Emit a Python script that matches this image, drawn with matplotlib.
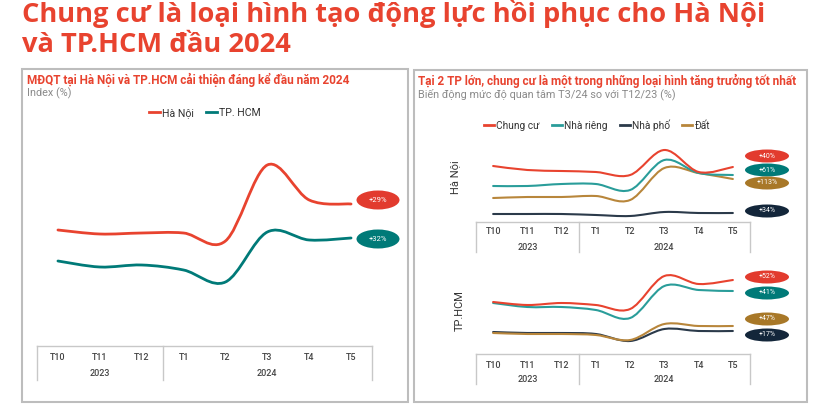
import numpy as np
import matplotlib
matplotlib.use("Agg")
import matplotlib.pyplot as plt
from matplotlib.path import Path
from matplotlib.patches import PathPatch, Ellipse, Rectangle
from matplotlib import transforms

plt.rcParams['font.family'] = ['Roboto', 'DejaVu Sans']

# ---- data ----
months = ["T10", "T11", "T12", "T1", "T2", "T3", "T4", "T5"]
years = ["2023", "2024"]
year_groups = [(0, 2), (3, 7)]

# left panel: index (%)
left_hn = [103, 99, 100, 100, 92, 168, 133, 129]
left_hcm = [72, 66, 68, 63, 51, 101, 93, 95]
left_badges = ["+29%", "+32%"]

# right panel, Hà Nội
hn_chungcu = [64, 60, 59, 58, 55, 80, 58, 63]
hn_nharieng = [44, 44, 46, 46, 40, 70, 57, 55]
hn_dat = [32, 33, 33, 34, 30, 62, 57, 51]
hn_nhapho = [16, 16, 16, 15, 14, 18, 17, 17]
hn_badges = ["+40%", "+61%", "+113%", "+34%"]

# right panel, TP.HCM
hcm_chungcu = [43, 40, 42, 40, 36, 69, 61, 65]
hcm_nharieng = [42, 38, 38, 35, 27, 59, 55, 54]
hcm_dat = [12, 11, 11, 10, 5, 21, 19, 19]
hcm_nhapho = [13, 12, 12, 11, 4, 16, 14, 14]
hcm_badges = ["+52%", "+41%", "+47%", "+17%"]

W, H = 815, 417
RED = "#E8432F"
TEAL_DARK = "#007A78"
TEAL = "#2A9D9A"
NAVY = "#2B3A4A"
TAN = "#B8863B"
GRID = "#c8c8c8"


def fx(x):
    return x / W


def fy(y):
    return 1 - y / H


def smooth_path(xs, ys):
    # Catmull-Rom through the points, turned into cubic bezier segments
    pts = np.column_stack([xs, ys]).astype(float)
    verts = [pts[0]]
    codes = [Path.MOVETO]
    n = len(pts)
    for i in range(n - 1):
        p0 = pts[max(i - 1, 0)]
        p1 = pts[i]
        p2 = pts[i + 1]
        p3 = pts[min(i + 2, n - 1)]
        c1 = p1 + (p2 - p0) / 6.0
        c2 = p2 - (p3 - p1) / 6.0
        verts += [c1, c2, p2]
        codes += [Path.CURVE4] * 3
    return Path(verts, codes)


def draw_line(ax, values, color, lw):
    p = smooth_path(np.arange(len(values)), values)
    ax.add_patch(PathPatch(p, fill=False, edgecolor=color, lw=lw,
                           capstyle='round', joinstyle='round'))


def make_axes(x0, x1, y0, y1, ylim, tick_y, year_y, sep_bottom):
    ax = fig.add_axes([fx(x0), fy(y1), (x1 - x0) / W, (y1 - y0) / H])
    ax.set_xlim(-0.5, len(months) - 0.5)
    ax.set_ylim(*ylim)
    ax.set_yticks([])
    ax.set_xticks([])
    for s in ["top", "left", "right"]:
        ax.spines[s].set_visible(False)
    ax.spines["bottom"].set_color(GRID)
    ax.spines["bottom"].set_linewidth(1.0)
    ax.patch.set_alpha(0)
    tr = transforms.blended_transform_factory(ax.transData, fig.transFigure)
    for i, m in enumerate(months):
        ax.text(i, fy(tick_y), m, transform=tr, ha='center', va='center',
                fontsize=6.5, color="#444444", fontweight='medium')
    for (a, b), yr in zip(year_groups, years):
        ax.text((a + b) / 2, fy(year_y), yr, transform=tr, ha='center',
                va='center', fontsize=6.5, color="#444444", fontweight='medium')
    for sx in [-0.5, 2.5, len(months) - 0.5]:
        ax.plot([sx, sx], [fy(y1), fy(sep_bottom)], transform=tr,
                color=GRID, lw=1.0, clip_on=False)
    return ax


def badge(x, y, w, h, text, color, size=5):
    fig.patches.append(Ellipse((fx(x), fy(y)), w / W, h / H,
                               transform=fig.transFigure, facecolor=color,
                               edgecolor='none'))
    fig.text(fx(x), fy(y), text, ha='center', va='center', fontsize=size,
             color='white')


fig = plt.figure(figsize=(8.15, 4.17), dpi=100)
fig.patch.set_facecolor('white')

# main title
fig.text(fx(22), fy(14), "Chung cư là loại hình tạo động lực hồi phục cho Hà Nội",
         ha='left', va='center', fontsize=19.6, fontweight='bold', color=RED,
         family=['Open Sans', 'DejaVu Sans'])
fig.text(fx(22), fy(45), "và TP.HCM đầu 2024",
         ha='left', va='center', fontsize=19.6, fontweight='bold', color=RED,
         family=['Open Sans', 'DejaVu Sans'])

# panel frames
fig.patches.append(Rectangle((fx(22), fy(402)), (408 - 22) / W, (402 - 69) / H,
                             transform=fig.transFigure, fill=False,
                             edgecolor="#bdbdbd", lw=1.5))
fig.patches.append(Rectangle((fx(414), fy(402)), (807 - 414) / W, (402 - 70) / H,
                             transform=fig.transFigure, fill=False,
                             edgecolor="#bdbdbd", lw=1.5))

# ---- left panel ----
fig.text(fx(27), fy(80), "MĐQT tại Hà Nội và TP.HCM cải thiện đáng kể đầu năm 2024",
         ha='left', va='center', fontsize=8.5, fontweight='bold', color=RED)
fig.text(fx(27), fy(93), "Index (%)", ha='left', va='center', fontsize=7.8,
         color="#8a8a8a")

axl = make_axes(37, 372, 140, 346, (-13, 193), 357, 374, 380)
draw_line(axl, left_hn, RED, 2.0)
draw_line(axl, left_hcm, TEAL_DARK, 2.0)

hl = [plt.Line2D([], [], color=RED, lw=2), plt.Line2D([], [], color=TEAL_DARK, lw=2)]
fig.legend(hl, ["Hà Nội", "TP. HCM"], loc='center', bbox_to_anchor=(fx(205), fy(113)),
           ncol=2, frameon=False, fontsize=7.6, handlelength=1.0,
           handletextpad=0.2, columnspacing=1.2, labelcolor="#333333")

badge(378, 200, 43, 19, left_badges[0], "#E23B2E", 5.5)
badge(378, 239, 43, 19, left_badges[1], TEAL_DARK, 5.5)

# ---- right panel ----
fig.text(fx(418), fy(81), "Tại 2 TP lớn, chung cư là một trong những loại hình tăng trưởng tốt nhất",
         ha='left', va='center', fontsize=8.5, fontweight='bold', color=RED)
fig.text(fx(418), fy(94), "Biến động mức độ quan tâm T3/24 so với T12/23 (%)",
         ha='left', va='center', fontsize=7.8, color="#8a8a8a")

series_colors = [RED, TEAL, NAVY, TAN]
series_names = ["Chung cư", "Nhà riêng", "Nhà phố", "Đất"]
hr = [plt.Line2D([], [], color=c, lw=2) for c in series_colors]
fig.legend(hr, series_names, loc='center', bbox_to_anchor=(fx(597), fy(125)),
           ncol=4, frameon=False, fontsize=7.3, handlelength=1.0,
           handletextpad=0.2, columnspacing=1.2, labelcolor="#333333")

axh = make_axes(476, 750, 140, 222, (8, 90), 232, 247, 252)
for vals, c in zip([hn_nhapho, hn_dat, hn_nharieng, hn_chungcu],
                   [NAVY, TAN, TEAL, RED]):
    draw_line(axh, vals, c, 1.5)
fig.text(fx(455), fy(177), "Hà Nội", rotation=90, ha='center', va='center',
         fontsize=8, color="#333333")

axc = make_axes(476, 750, 265, 354, (-9, 80), 365, 379, 384)
for vals, c in zip([hcm_nhapho, hcm_dat, hcm_nharieng, hcm_chungcu],
                   [NAVY, TAN, TEAL, RED]):
    draw_line(axc, vals, c, 1.5)
fig.text(fx(460), fy(311), "TP.HCM", rotation=90, ha='center', va='center',
         fontsize=8, color="#333333")

badge_cols = ["#E23B2E", TEAL_DARK, "#A87828", "#13263A"]
for t, yy, c in zip(hn_badges, [156, 170, 183, 211], badge_cols):
    badge(767, yy, 44, 13, t, c)
for t, yy, c in zip(hcm_badges, [277, 293, 319, 335], badge_cols):
    badge(767, yy, 44, 13, t, c)

fig.savefig("out.png", dpi=100, facecolor='white')
